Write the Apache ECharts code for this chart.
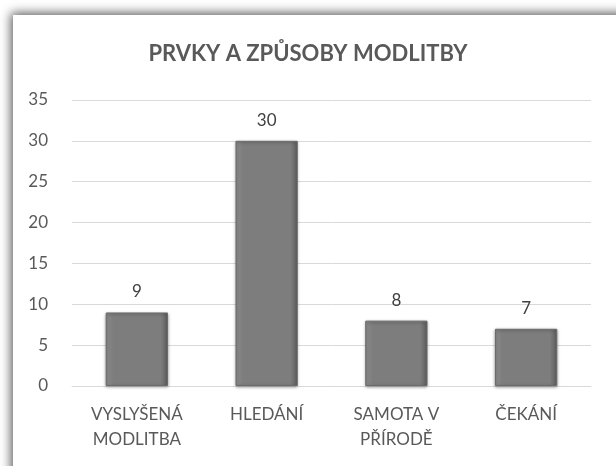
<!DOCTYPE html>
<html>
<head>
<meta charset="utf-8">
<script src="https://cdn.jsdelivr.net/npm/echarts@6/dist/echarts.min.js"></script>
<style>
  html, body { margin: 0; padding: 0; background: #fff; }
  #bar { width: 616px; height: 466px; }
</style>
</head>
<body>
<div id="bar"></div>
<script>
const categories = ['VYSLYŠENÁ\nMODLITBA', 'HLEDÁNÍ', 'SAMOTA V\nPŘÍRODĚ', 'ČEKÁNÍ'];
const values = [9, 30, 8, 7];
const yTicks = { min: 0, max: 35, interval: 5 };

const barChartDom = document.getElementById('bar');
const barChart = echarts.init(barChartDom);

const font = 'Lato, "Noto Sans", sans-serif';

const barOption = {
    animation: false,
    textStyle: { fontFamily: font },
    graphic: [
        {
            type: 'rect',
            shape: { x: 13, y: 15, width: 640, height: 480 },
            style: {
                fill: '#fff',
                shadowBlur: 10,
                shadowColor: 'rgba(0,0,0,0.65)',
                shadowOffsetX: -2,
                shadowOffsetY: -2
            },
            z: -10
        }
    ],
    title: {
        text: 'PRVKY A ZPŮSOBY MODLITBY',
        left: 'center',
        top: 38,
        textStyle: {
            color: '#595959',
            fontSize: 22,
            fontWeight: 'bold',
            fontFamily: font
        }
    },
    grid: { left: 72, right: 25, top: 100, bottom: 80, containLabel: false },
    xAxis: {
        type: 'category',
        data: categories,
        axisLine: { lineStyle: { color: '#d9d9d9' } },
        axisTick: { show: false },
        axisLabel: {
            color: '#595959',
            fontSize: 17,
            margin: 16,
            lineHeight: 25,
            interval: 0
        }
    },
    yAxis: {
        type: 'value',
        min: yTicks.min,
        max: yTicks.max,
        interval: yTicks.interval,
        axisLine: { show: false },
        axisTick: { show: false },
        axisLabel: { color: '#595959', fontSize: 17, margin: 24 },
        splitLine: { lineStyle: { color: '#d9d9d9', width: 1 } }
    },
    series: [
        {
            data: values,
            type: 'bar',
            barWidth: '48%',
            itemStyle: {
                color: {
                    type: 'linear', x: 0, y: 0, x2: 1, y2: 0,
                    colorStops: [
                        { offset: 0, color: '#8c8c8c' },
                        { offset: 0.12, color: '#7d7d7d' },
                        { offset: 0.88, color: '#7d7d7d' },
                        { offset: 1, color: '#5e5e5e' }
                    ]
                },
                borderColor: '#6b6b6b',
                borderWidth: 1,
                shadowBlur: 3,
                shadowColor: 'rgba(0,0,0,0.35)',
                shadowOffsetY: 1
            },
            label: {
                show: true,
                position: 'top',
                distance: 12,
                color: '#404040',
                fontSize: 17
            }
        }
    ]
};

barOption && barChart.setOption(barOption);
</script>
</body>
</html>
